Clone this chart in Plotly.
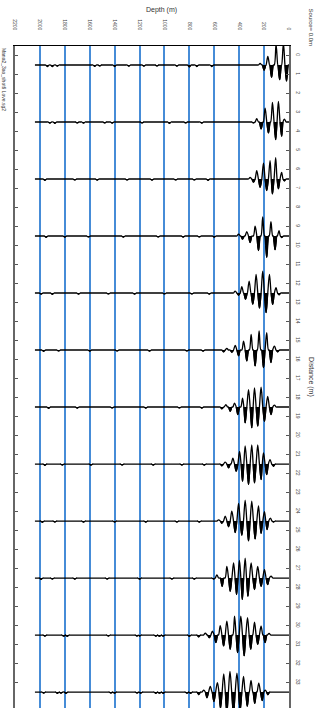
import plotly.graph_objects as go

# Receiver positions along the line (m) and sample length of each record (m)
TRACE_OFFSETS = [0.5, 3.5, 6.5, 9.5, 12.5, 15.5, 18.5, 21.5, 24.5, 27.5, 30.5, 33.5]
TRACE_LENGTH = 2040

# Extrema of the main wave packet on each trace: depth (m) and amplitude (m, positive = shaded)
WAVE_DEPTHS = [
    [232, 200, 170, 140, 104, 75, 45, 20],
    [285, 259, 224, 192, 165, 133, 107, 85, 59, 37],
    [312, 285, 259, 232, 205, 179, 152, 133, 107, 85, 59, 37],
    [405, 373, 339, 312, 272, 245, 211, 179, 145, 112, 80, 59],
    [432, 405, 379, 349, 320, 291, 264, 237, 211, 184, 157, 131, 104, 80],
    [525, 499, 459, 432, 405, 365, 339, 304, 272, 240, 205, 179, 145, 117, 91],
    [539, 507, 472, 437, 411, 373, 352, 325, 299, 277, 251, 224, 197, 171, 144, 117],
    [539, 512, 485, 451, 424, 397, 373, 352, 325, 299, 277, 251, 224, 205, 179, 152, 125],
    [565, 539, 512, 485, 459, 432, 405, 379, 352, 325, 299, 272, 245, 224, 197, 176, 149, 125],
    [605, 579, 537, 499, 472, 445, 421, 398, 375, 352, 330, 304, 277, 251, 224, 197, 171, 144],
    [725, 672, 640, 615, 587, 552, 525, 499, 472, 437, 413, 387, 360, 333, 307, 277, 251, 224, 192, 160],
    [725, 685, 659, 632, 603, 575, 550, 524, 499, 474, 446, 418, 392, 365, 335, 305, 275, 243, 215, 190, 170],
]
WAVE_AMPS = [
    [-0.08, 0.28, -0.45, 0.65, -1.1, 0.78, -1.15, 0.85],
    [0.05, -0.17, 0.37, -0.73, 0.58, -1.03, 0.93, -1.08, 0.75, -0.15],
    [-0.08, 0.17, -0.44, 0.44, -0.84, 0.61, -0.96, 0.79, -1.13, 0.52, -0.35, 0.1],
    [-0.1, 0.17, -0.23, 0.35, -0.52, 0.77, -1.01, 1.12, -0.75, 0.73, -0.28, 0.08],
    [-0.1, 0.12, -0.33, 0.33, -0.63, 0.59, -0.98, 0.8, -1.15, 1.03, -0.98, 0.6, -0.28, 0.1],
    [0.1, -0.08, 0.12, -0.24, 0.31, -0.47, 0.58, -0.82, 0.84, -1.0, 0.93, -0.91, 0.66, -0.21, 0.1],
    [0.1, -0.12, 0.23, -0.21, 0.4, -0.47, 0.84, -0.91, 1.1, -1.0, 1.01, -1.05, 0.75, -0.56, 0.4, -0.1],
    [0.1, -0.1, 0.21, -0.31, 0.38, -0.66, 0.91, -0.96, 1.08, -1.01, 1.0, -1.01, 0.82, -0.58, 0.56, -0.23, 0.12],
    [-0.06, 0.12, -0.26, 0.3, -0.52, 0.61, -0.93, 0.75, -1.1, 1.05, -1.05, 0.95, -0.8, 0.65, -0.5, 0.45, -0.15, 0.05],
    [0.05, -0.17, 0.44, -0.61, 0.7, -0.79, 0.87, -0.93, 1.13, -1.05, 0.96, -0.79, 0.61, -0.61, 0.44, -0.44, 0.35, -0.1],
    [0.1, -0.1, 0.15, -0.2, 0.4, -0.5, 0.58, -0.73, 0.75, -1.0, 0.93, -1.0, 1.1, -0.91, 0.75, -0.68, 0.49, -0.47, 0.4, -0.08],
    [0.14, -0.1, 0.3, -0.3, 0.5, -0.5, 0.85, -0.96, 1.1, -1.08, 1.15, -1.0, 0.95, -0.82, 0.75, -0.61, 0.6, -0.47, 0.45, -0.1, 0.15],
]

# Small late arrivals along the tail of each trace
NOISE_DEPTHS = [
    [620, 740, 800, 900, 1060, 1165, 1286, 1400, 1520, 1560, 1860, 1900, 1940],
    [700, 830, 960, 1180, 1420, 1480, 1650, 1700, 1880, 1920],
    [650, 760, 910, 1100, 1300, 1540, 1720, 1960],
    [600, 720, 850, 1050, 1330, 1610, 1800, 1950],
    [640, 780, 1000, 1240, 1450, 1690, 1900, 1990],
    [690, 820, 1120, 1380, 1600, 1850, 1970],
    [700, 880, 1150, 1420, 1700, 1930],
    [680, 860, 1090, 1340, 1590, 1820, 1960],
    [720, 900, 1150, 1400, 1650, 1880, 1980],
    [760, 940, 1200, 1460, 1720, 1900, 1990],
    [800, 1010, 1040, 1070, 1200, 1220, 1450, 1780, 1810, 1960],
    [790, 820, 1010, 1040, 1070, 1190, 1220, 1400, 1430, 1790, 1830, 1860, 1970],
]
NOISE_AMPS = [
    [0.08, 0.08, 0.1, 0.06, 0.05, 0.06, 0.06, 0.08, 0.05, 0.07, 0.06, 0.08, 0.08],
    [0.06, 0.05, 0.07, 0.05, 0.06, 0.05, 0.06, 0.05, 0.07, 0.06],
    [0.07, 0.05, 0.05, 0.06, 0.05, 0.06, 0.05, 0.07],
    [0.06, 0.05, 0.06, 0.05, 0.06, 0.05, 0.06, 0.07],
    [0.06, 0.05, 0.05, 0.06, 0.05, 0.06, 0.07, 0.06],
    [0.06, 0.05, 0.06, 0.05, 0.06, 0.05, 0.07],
    [0.06, 0.05, 0.06, 0.05, 0.06, 0.07],
    [0.06, 0.05, 0.06, 0.05, 0.06, 0.05, 0.07],
    [0.06, 0.05, 0.06, 0.05, 0.06, 0.05, 0.07],
    [0.06, 0.05, 0.06, 0.05, 0.06, 0.05, 0.07],
    [0.07, 0.06, 0.07, 0.06, 0.05, 0.06, 0.05, 0.07, 0.06, 0.06],
    [0.07, 0.06, 0.07, 0.06, 0.07, 0.06, 0.05, 0.06, 0.05, 0.07, 0.06, 0.07, 0.06],
]

DEPTH_TICKS = list(range(0, 2201, 200))
DISTANCE_TICKS = list(range(0, 34))

HALF_LOBE = 14.0   # half width of an isolated lobe (m)
PAD = 6.0          # flat run kept either side of an isolated lobe (m)
FONT = "Liberation Sans, Arial, sans-serif"


def lobes(depths, amps):
    """Zero crossings around every extremum, sorted by depth."""
    pts = sorted(zip(depths, amps))
    out = []
    for i, (d, a) in enumerate(pts):
        lo, hi = d - HALF_LOBE, d + HALF_LOBE
        if i > 0:
            lo = max(lo, (pts[i - 1][0] + d) / 2)
        if i < len(pts) - 1:
            hi = min(hi, (pts[i + 1][0] + d) / 2)
        out.append((max(lo, 0), d, hi, a))
    return out


fig = go.Figure()

for off, wd, wa, nd, na in zip(TRACE_OFFSETS, WAVE_DEPTHS, WAVE_AMPS, NOISE_DEPTHS, NOISE_AMPS):
    parts = lobes(wd + nd, wa + na)

    # shaded positive lobes
    fx, fy = [], []
    for lo, d, hi, a in parts:
        if a > 0:
            fx += [lo, d, hi, None]
            fy += [off, off + a, off, None]
    fig.add_trace(go.Scatter(
        x=fx, y=fy, mode="lines", fill="toself", fillcolor="black",
        line=dict(width=1, color="black", shape="spline"),
        hoverinfo="skip", showlegend=False,
    ))

    # wiggle outline; flat pads keep the spline from bowing on long quiet runs
    lx, ly = [0.0], [off]
    for lo, d, hi, a in parts:
        if lo > lx[-1]:
            if lo - PAD > lx[-1] + PAD:
                lx.append(lx[-1] + PAD)
                ly.append(off)
                lx.append(lo - PAD)
                ly.append(off)
            lx.append(lo)
            ly.append(off)
        lx.append(d)
        ly.append(off + a)
        lx.append(hi)
        ly.append(off)
    lx += [lx[-1] + PAD, TRACE_LENGTH - PAD, TRACE_LENGTH]
    ly += [off, off, off]
    fig.add_trace(go.Scatter(
        x=lx, y=ly, mode="lines",
        line=dict(width=1.3, color="black", shape="spline"),
        hoverinfo="skip", showlegend=False,
    ))

fig.update_layout(
    width=321, height=708,
    margin=dict(l=15, r=32, t=46, b=0),
    paper_bgcolor="white", plot_bgcolor="white",
    font=dict(family=FONT, size=5, color="#333"),
    xaxis=dict(
        range=[2200, 0], side="top",
        tickvals=DEPTH_TICKS, ticktext=[str(v) for v in DEPTH_TICKS],
        tickangle=90, tickfont=dict(size=5, color="#444"),
        ticks="", ticklabelstandoff=13,
        showgrid=True, gridcolor="rgb(70,140,215)", gridwidth=1.5,
        showline=True, linecolor="black", linewidth=1, mirror=False,
        zeroline=False,
    ),
    yaxis=dict(
        range=[34.34, -0.5], side="right",
        tickvals=DISTANCE_TICKS, ticktext=[str(v) for v in DISTANCE_TICKS],
        tickangle=90, tickfont=dict(size=5, color="#444"),
        ticks="inside", ticklen=3, tickcolor="#555", tickwidth=1,
        showgrid=False, zeroline=False,
        showline=True, linecolor="#666", linewidth=2, mirror="ticks",
        ticklabelstandoff=3,
    ),
    annotations=[
        dict(text="Depth (m)", xref="paper", yref="paper", x=0.536, y=1.054,
             showarrow=False, font=dict(size=7, color="#333"),
             xanchor="center", yanchor="middle"),
        dict(text="Source= 0.0m", xref="paper", yref="paper", x=1.08, y=1.028,
             showarrow=False, textangle=90, font=dict(size=6, color="#333"),
             xanchor="center", yanchor="middle"),
        dict(text="Distance (m)", xref="paper", yref="paper", x=1.08, y=0.5,
             showarrow=False, textangle=90, font=dict(size=7, color="#333"),
             xanchor="center", yanchor="middle"),
        dict(text="Mana2_3ao_shot6 Love.sg2", xref="paper", yref="paper", x=-0.038, y=1.0,
             showarrow=False, textangle=90, font=dict(size=5, color="#333"),
             xanchor="center", yanchor="top"),
    ],
)

fig.write_html("out.html")
